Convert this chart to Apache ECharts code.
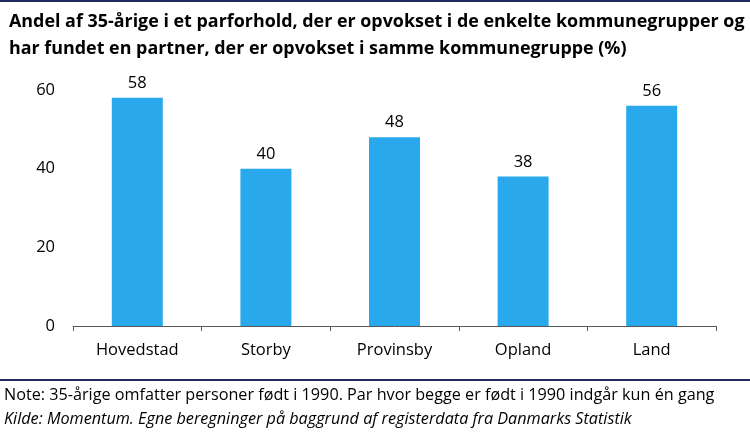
<!DOCTYPE html>
<html><head><meta charset="utf-8">
<script src="https://cdn.jsdelivr.net/npm/echarts@6/dist/echarts.min.js"></script>
<style>body{margin:0}#c{width:750px;height:436px}</style></head>
<body><div id="c"></div>
<script>
const categories = ["Hovedstad","Storby","Provinsby","Opland","Land"];
const values = [58,40,48,38,56];
const yTicks = [0,20,40,60];
const title = "Andel af 35-årige i et parforhold, der er opvokset i de enkelte kommunegrupper og\nhar fundet en partner, der er opvokset i samme kommunegruppe (%)";
const note = "Note: 35-årige omfatter personer født i 1990. Par hvor begge er født i 1990 indgår kun én gang";
const source = "Kilde: Momentum. Egne beregninger på baggrund af registerdata fra Danmarks Statistik";
const ch = echarts.init(document.getElementById('c'));
const font = "'Open Sans', 'Liberation Sans', sans-serif";
ch.setOption({
  animation:false,
  textStyle:{fontFamily:font},
  title:{text:title,left:4,top:3,textStyle:{fontSize:17.9,fontWeight:'bold',color:'#000',lineHeight:27,fontFamily:font}},
  graphic:[
    {type:'line',shape:{x1:0,y1:1,x2:750,y2:1},style:{stroke:'#1f2a5a',lineWidth:2}},
    {type:'line',shape:{x1:0,y1:380,x2:750,y2:380},style:{stroke:'#1f2a5a',lineWidth:2}},
    {type:'text',left:4,top:387,style:{text:note,fontSize:16.2,fill:'#000',fontFamily:font}},
    {type:'text',left:4,top:411,style:{text:source,fontSize:16.2,fontStyle:'italic',fill:'#000',fontFamily:font}}
  ],
  grid:{left:73,right:34,top:90,bottom:110},
  xAxis:{type:'category',data:categories,axisLine:{lineStyle:{color:'#595959'}},axisTick:{show:true,length:5,lineStyle:{color:'#595959'}},
    axisLabel:{fontSize:16.5,color:'#000',margin:16}},
  yAxis:{type:'value',min:yTicks[0],max:yTicks[yTicks.length-1],interval:20,splitLine:{show:false},axisLine:{show:false},
    axisLabel:{fontSize:16.5,color:'#000',margin:18}},
  series:[{type:'bar',data:values,barWidth:51,itemStyle:{color:'#29a9ec'},
    label:{show:true,position:'top',fontSize:16.5,color:'#000',distance:6}}]
});
</script></body></html>
